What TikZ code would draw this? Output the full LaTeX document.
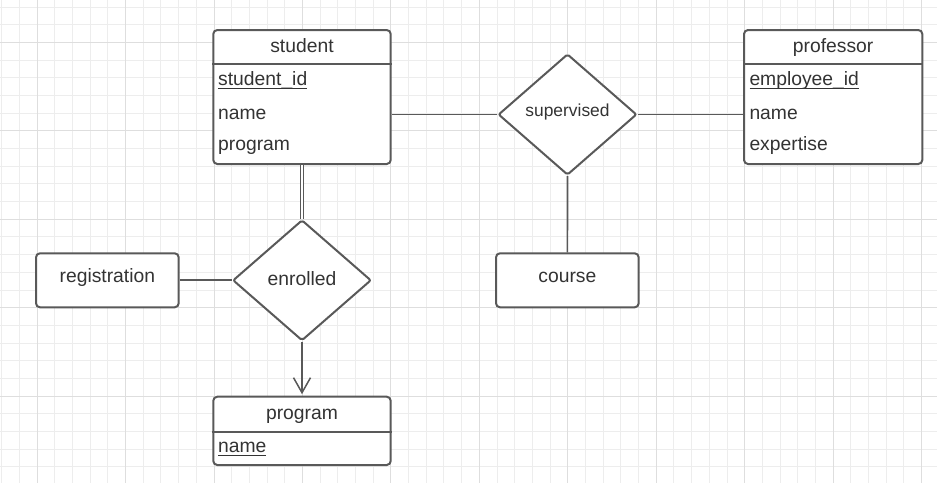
\documentclass[tikz,border=0pt]{standalone}
\usepackage{fontspec}
\setmainfont{Liberation Sans}
\usetikzlibrary{shapes.geometric,arrows.meta}
\definecolor{strokegray}{HTML}{595959}
\definecolor{txtgray}{HTML}{333333}
\definecolor{gridminor}{HTML}{EDEDED}
\definecolor{gridmajor}{HTML}{DEDEDE}
\newcommand\myul[1]{\setbox0\hbox{#1}\rlap{\rule[-3.2pt]{\wd0}{1.3pt}}\box0}
\begin{document}
\begin{tikzpicture}[x=1pt,y=-1pt,
  entity/.style={draw=strokegray, line width=2pt, fill=white, rounded corners=4pt, inner sep=0pt},
  rel/.style={diamond, draw=strokegray, line width=2pt, fill=white, inner sep=0pt, rounded corners=2pt},
  conn/.style={draw=strokegray, line width=1.7pt},
  divider/.style={draw=strokegray, line width=2pt},
  lbl/.style={text=txtgray, inner sep=0pt, font=\fontsize{19.3}{23}\selectfont},
  smalllbl/.style={text=txtgray, inner sep=0pt, font=\fontsize{17.4}{21}\selectfont}
]
\useasboundingbox (0,0) rectangle (937,483);
\fill[white] (0,0) rectangle (937,483);
% grid
\foreach \k in {-2,...,50} {\draw[gridminor, line width=0.8pt] ({37+\k*17.69},0) -- ({37+\k*17.69},483);}
\foreach \k in {-2,...,25} {\draw[gridminor, line width=0.8pt] (0,{42.3+\k*17.69}) -- (937,{42.3+\k*17.69});}
\foreach \k in {0,...,10} {\draw[gridmajor, line width=0.8pt] ({37+\k*88.45},0) -- ({37+\k*88.45},483);}
\foreach \k in {0,...,4} {\draw[gridmajor, line width=0.8pt] (0,{42.3+\k*88.45}) -- (937,{42.3+\k*88.45});}

% entities
\node[entity, minimum width=177.4pt, minimum height=134pt] (student) at (302,97) {};
\draw[divider] ([yshift=-35pt]student.north west) -- ([yshift=-35pt]student.north east);
\node[lbl, anchor=base] (student-title) at (302,52.3) {student};
\node[lbl, anchor=base west] (student-id) at (218,85.7) {\myul{student\_id}};
\node[lbl, anchor=base west] (student-name) at (218,119) {name};
\node[lbl, anchor=base west] (student-program) at (218,150.5) {program};

\node[entity, minimum width=178.3pt, minimum height=134pt] (professor) at (833.15,97) {};
\draw[divider] ([yshift=-35pt]professor.north west) -- ([yshift=-35pt]professor.north east);
\node[lbl, anchor=base] (professor-title) at (833.15,52.3) {professor};
\node[lbl, anchor=base west] (professor-id) at (749.3,85.7) {\myul{employee\_id}};
\node[lbl, anchor=base west] (professor-name) at (749.3,119) {name};
\node[lbl, anchor=base west] (professor-expertise) at (749.3,150.3) {expertise};

\node[entity, minimum width=177.4pt, minimum height=68.3pt] (program) at (302,430.85) {};
\draw[divider] ([yshift=-36pt]program.north west) -- ([yshift=-36pt]program.north east);
\node[lbl, anchor=base] (program-title) at (302,419.3) {program};
\node[lbl, anchor=base west] (program-name) at (218,452.7) {\myul{name}};

\node[entity, minimum width=142.7pt, minimum height=54pt] (registration) at (107.35,280.3) {};
\node[lbl, anchor=base] (registration-title) at (107.35,282.7) {registration};

\node[entity, minimum width=142.7pt, minimum height=54pt] (course) at (567.35,280.3) {};
\node[lbl, anchor=base] (course-title) at (567.35,282.7) {course};

% relationships
\node[rel, minimum width=138.4pt, minimum height=121pt] (supervised) at (567.5,114.5) {};
\node[smalllbl, anchor=base] (supervised-title) at (567.5,116.7) {supervised};

\node[rel, minimum width=138.3pt, minimum height=120.7pt] (enrolled) at (302,280.3) {};
\node[lbl, anchor=base] (enrolled-title) at (302,285) {enrolled};

% connectors
\draw[conn] (supervised.west) -- (supervised.west -| student.east);
\draw[conn] (supervised.east) -- (supervised.east -| professor.west);
\draw[conn] (supervised.south) -- (course.north);
\draw[conn] (registration.east) -- (enrolled.west);
\draw[draw=strokegray, line width=1.3pt, double=white, double distance=2pt] (student.south) -- (enrolled.north);
\draw[conn, -{Straight Barb[length=15pt,width=17pt,line width=1.5pt]}] (enrolled.south) -- ([yshift=1.5pt]program.north);
\end{tikzpicture}
\end{document}
